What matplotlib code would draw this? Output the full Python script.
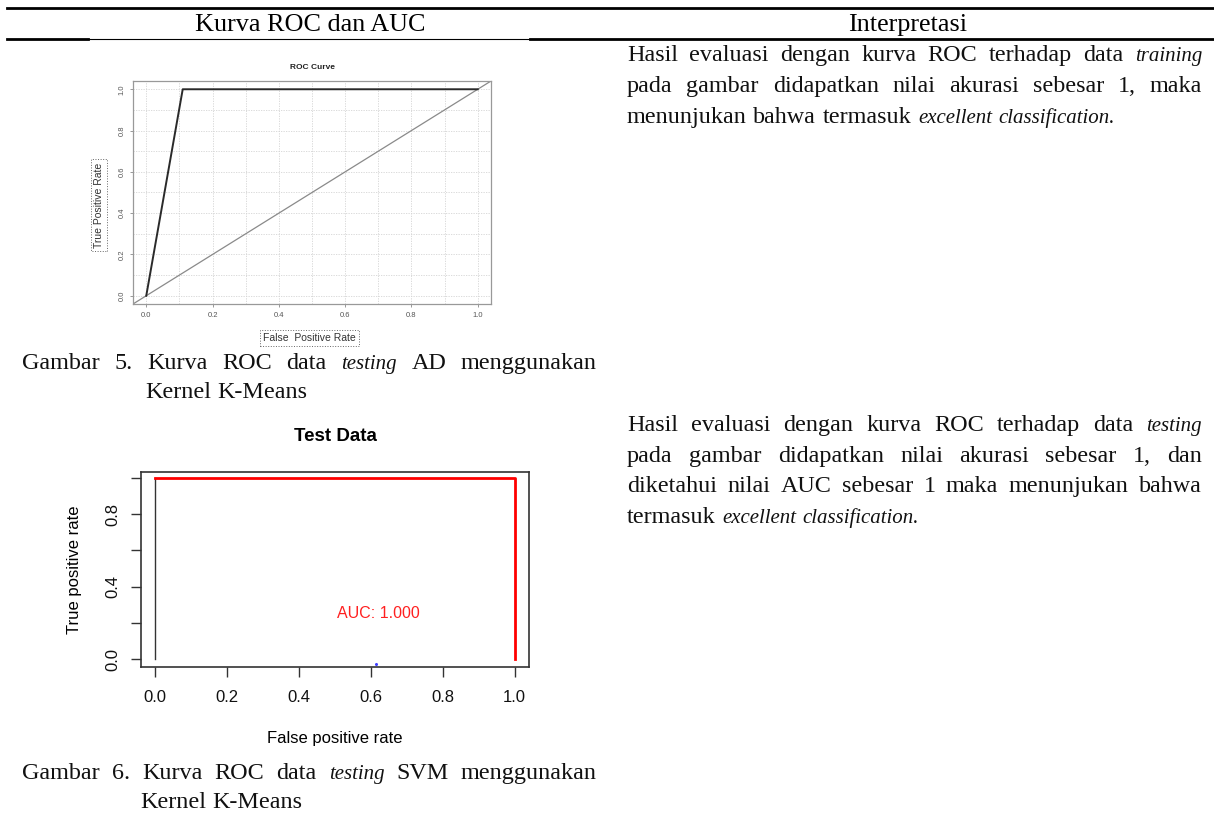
import matplotlib
matplotlib.use("Agg")
import matplotlib.pyplot as plt

W, H = 1214, 813
SERIF = "Liberation Serif"
SANS = "Liberation Sans"

# ROC data of Gambar 5 (AD, training curve)
roc1_fpr = [0.0, 0.11, 1.0]
roc1_tpr = [0.0, 1.0, 1.0]
diag = [-0.04, 1.04]

# ROC data of Gambar 6 (SVM, test data)
svm_black_fpr = [0.0, 0.0]
svm_black_tpr = [0.0, 1.0]
svm_red_fpr = [0.0, 1.0, 1.0]
svm_red_tpr = [1.0, 1.0, 0.0]
auc_text = "AUC: 1.000"
ticks = [0.0, 0.2, 0.4, 0.6, 0.8, 1.0]
tick_labels = ["0.0", "0.2", "0.4", "0.6", "0.8", "1.0"]
svm_ylabels = ["0.0", "", "0.4", "", "0.8", ""]

fig = plt.figure(figsize=(W / 100, H / 100), dpi=100)
r = fig.canvas.get_renderer()

FS_HEAD = 18.8
FS = 17.4      # regular text
FS_IT = 15.0   # garamond italic is much narrower


def fx(x):
    return x / W


def fy(y):
    return 1 - y / H


def hline(x0, x1, y, lw):
    fig.add_artist(plt.Line2D([fx(x0), fx(x1)], [fy(y), fy(y)], color="black", lw=lw,
                              transform=fig.transFigure))


def put_line(words, x0, x1, y, justify):
    objs = []
    for w, st in words:
        size = FS_IT if st == "italic" else FS
        t = fig.text(fx(x0), fy(y), w, fontsize=size, family=SERIF, style=st,
                     va="baseline", ha="left", color="#111")
        objs.append(t)
    widths = [t.get_window_extent(r).width for t in objs]
    if justify and len(objs) > 1:
        gap = (x1 - x0 - sum(widths)) / (len(objs) - 1)
    else:
        gap = FS * 100 / 72 * 0.27
    x = x0
    for t, wd in zip(objs, widths):
        t.set_x(fx(x))
        x += wd + gap


def words(s, italic=()):
    out = []
    for w in s.split():
        out.append((w, "italic" if w.strip(".,") in italic else "normal"))
    return out


# table rules
hline(7, W, 8, 2.0)
hline(7, 88, 39, 2.0)
hline(88, 530, 39, 0.8)
hline(530, W, 39, 2.0)

fig.text(fx(310), fy(31), "Kurva ROC dan AUC", fontsize=FS_HEAD, family=SERIF, ha="center", va="baseline")
fig.text(fx(908), fy(31), "Interpretasi", fontsize=FS_HEAD, family=SERIF, ha="center", va="baseline")

# interpretation texts
ital = ("training", "testing", "excellent", "classification")
block1 = [
    ("Hasil evaluasi dengan kurva ROC terhadap data training", True),
    ("pada gambar didapatkan nilai akurasi sebesar 1, maka", True),
    ("menunjukan bahwa termasuk excellent classification.", False),
]
for i, (s, j) in enumerate(block1):
    put_line(words(s, ital), 627, 1202, 61 + i * 31, j)

block2 = [
    ("Hasil evaluasi dengan kurva ROC terhadap data testing", True),
    ("pada gambar didapatkan nilai akurasi sebesar 1, dan", True),
    ("diketahui nilai AUC sebesar 1 maka menunjukan bahwa", True),
    ("termasuk excellent classification.", False),
]
for i, (s, j) in enumerate(block2):
    put_line(words(s, ital), 627, 1202, 431 + i * 30.7, j)

# captions
put_line(words("Gambar 5. Kurva ROC data testing AD menggunakan", ital), 22, 597, 369, True)
put_line(words("Kernel K-Means"), 145, 597, 398, False)
put_line(words("Gambar 6. Kurva ROC data testing SVM menggunakan", ital), 22, 597, 779, True)
put_line(words("Kernel K-Means"), 140, 597, 808, False)

# ---- chart 1: ROC Curve ----
ax1 = fig.add_axes([fx(133), fy(304), fx(491 - 133), (304 - 81) / H])
ax1.set_xlim(-0.04, 1.04)
ax1.set_ylim(-0.04, 1.04)
grid = [i / 10 for i in range(11)]
for g in grid:
    ax1.axvline(g, color="#d4d4d4", lw=0.6, ls=(0, (1.5, 1.5)), zorder=0)
    ax1.axhline(g, color="#d4d4d4", lw=0.6, ls=(0, (1.5, 1.5)), zorder=0)
ax1.plot(diag, diag, color="#8a8a8a", lw=0.9)
ax1.plot(roc1_fpr, roc1_tpr, color="#2a2a2a", lw=1.4)
for s in ax1.spines.values():
    s.set_color("#999999")
    s.set_linewidth(0.9)
ax1.set_xticks(ticks)
ax1.set_xticklabels(tick_labels)
ax1.set_yticks(ticks)
ax1.set_yticklabels(tick_labels, rotation=90, va="center")
ax1.tick_params(length=2.5, width=0.6, color="#888888", labelsize=5.5, labelcolor="#555555", pad=3)
ax1.set_title("ROC Curve", fontsize=6, fontweight="bold", family=SANS, pad=9, color="#222")
fig.text(fx(99), fy(205), "True Positive Rate", rotation=90, fontsize=7.5, family=SANS,
         ha="center", va="center", color="#333",
         bbox=dict(boxstyle="square,pad=0.3", fc="white", ec="#666", ls=":", lw=0.7))
fig.text(fx(309), fy(338), "False  Positive Rate", fontsize=7.5, family=SANS,
         ha="center", va="center", color="#333",
         bbox=dict(boxstyle="square,pad=0.3", fc="white", ec="#666", ls=":", lw=0.7))
for lab in ax1.get_xticklabels() + ax1.get_yticklabels():
    lab.set_family(SANS)

# ---- chart 2: Test Data ----
ax2 = fig.add_axes([fx(141), fy(667), fx(529 - 141), (667 - 472) / H])
ax2.set_xlim(-0.04, 1.04)
ax2.set_ylim(-0.044, 1.033)
ax2.plot(svm_black_fpr, svm_black_tpr, color="#333333", lw=1.0)
ax2.plot(svm_red_fpr, svm_red_tpr, color="#ff0000", lw=2.0)
ax2.plot([0.615], [-0.028], marker="o", ms=1.2, color="#4040ff", ls="none")
ax2.text(0.62, 0.25, auc_text, color="#ff2020", fontsize=11.5, family=SANS, ha="center", va="center")
for s in ax2.spines.values():
    s.set_color("#333333")
    s.set_linewidth(1.2)
ax2.set_xticks(ticks)
ax2.set_xticklabels(tick_labels)
ax2.set_yticks(ticks)
ax2.set_yticklabels(svm_ylabels, rotation=90, va="center")
ax2.tick_params(length=7.5, width=1.0, color="#333333", labelsize=12, labelcolor="#111", pad=9)
ax2.tick_params(axis="y", pad=7)
for lab in ax2.get_xticklabels() + ax2.get_yticklabels():
    lab.set_family(SANS)
ax2.set_title("Test Data", fontsize=13.5, fontweight="bold", family=SANS, pad=22)
ax2.set_xlabel("False positive rate", fontsize=12, family=SANS, labelpad=19)
ax2.set_ylabel("True positive rate", fontsize=12, family=SANS, labelpad=17)

fig.savefig("out.png", dpi=100)
